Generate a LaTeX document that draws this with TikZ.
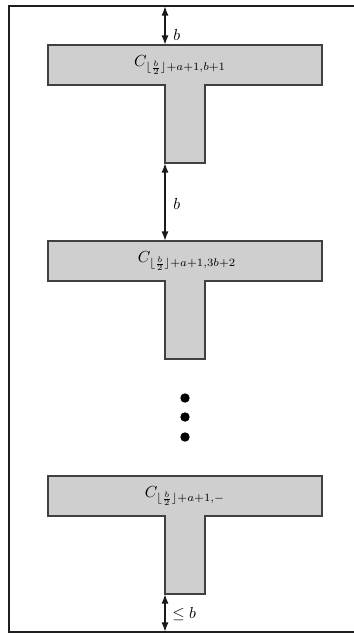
\documentclass[tikz,border=0pt]{standalone}
\usetikzlibrary{arrows.meta}
\begin{document}
\begin{tikzpicture}[x=0.625pt,y=-0.625pt,
  tshape/.style={draw=black!75,fill=black!19,line width=0.9pt,line join=miter},
  frameline/.style={draw=black!88,line width=1.25pt},
  gap/.style={draw=black!90,line width=0.95pt,{Latex[length=6pt,width=4.4pt]}-{Latex[length=6pt,width=4.4pt]}},
  lbl/.style={inner sep=0pt},
  dotmark/.style={fill=black,draw=none}]
\useasboundingbox (0,0) rectangle (354,633);
% frame
\coordinate (frTL) at (9,6);
\coordinate (frTR) at (360,6);
\coordinate (frBL) at (9,640);
\coordinate (frB0) at (9,632);
\coordinate (frBR) at (360,632);
\draw[frameline] (frTR) -- (frTL) -- (frBL);
\draw[frameline] (frB0) -- (frBR);
% T shapes
\foreach \n/\t in {1/45,2/241,3/476}{
  \draw[tshape] (48,\t) -- (322,\t) -- (322,\t+40) -- (205,\t+40) -- (205,\t+118)
     -- (165,\t+118) -- (165,\t+40) -- (48,\t+40) -- cycle;
  \coordinate (top\n) at (165,\t);
  \coordinate (bot\n) at (165,\t+118);
}
\node[lbl] (c1) at (180,65) {$C_{\lfloor \frac{b}{2}\rfloor+a+1,b+1}$};
\node[lbl] (c2) at (187,261) {$C_{\lfloor \frac{b}{2}\rfloor+a+1,3b+2}$};
\node[lbl] (c3) at (185,496) {$C_{\lfloor \frac{b}{2}\rfloor+a+1,-}$};
% gaps
\coordinate (frA) at (165,6);
\coordinate (frC) at (165,632);
\draw[gap] (frA) -- (top1);
\draw[gap] (bot1) -- (top2);
\draw[gap] (bot3) -- (frC);
\node[lbl,anchor=west] (g1) at (173,34.5) {$b$};
\node[lbl,anchor=west] (g2) at (173,203.5) {$b$};
\node[lbl,anchor=west] (g3) at (172,614) {$\leq b$};
% dots
\fill[dotmark] (185,398) circle (4.7);
\fill[dotmark] (185,417) circle (4.7);
\fill[dotmark] (185,437) circle (4.7);
\end{tikzpicture}
\end{document}
